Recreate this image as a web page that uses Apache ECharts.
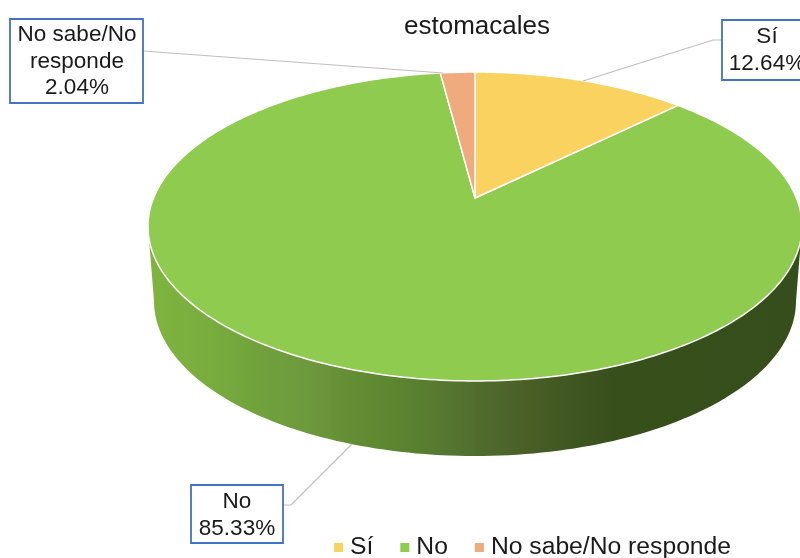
<!DOCTYPE html>
<html><head><meta charset="utf-8">
<style>html,body{margin:0;padding:0;background:#fff}#c{width:800px;height:558px}</style>
<script src="https://cdn.jsdelivr.net/npm/echarts@6/dist/echarts.min.js"></script>
</head><body><div id="c"></div>
<script>
const titleText = 'estomacales';
const categories = ['Sí', 'No', 'No sabe/No responde'];
const values = [12.64, 85.33, 2.04];
const labelNames = [['Sí'], ['No'], ['No sabe/No', 'responde']];
const colors = ['#FAD25F', '#8ECB4F', '#EFAA7E'];

const FONT = '22.5px "Liberation Sans", Arial, sans-serif';
const apex = {x: 475, y: 198};
const persp = 0.1845, projX = 321.4, projY = 149.2;
const topRim = {cx: 475, cy: 226.5, rx: 327, ry: 154.5};
const baseRim = {cx: 475, cy: 301, rx: 321, ry: 155};
const boxes = [
  {x: 722, y: 20, w: 90, h: 60, cx: 767, ty: 37, line: [[722, 40], [713, 40], [583, 81]]},
  {x: 191, y: 485, w: 92, h: 58, cx: 237, ty: 502, line: [[283, 505], [291, 505], [352, 444]]},
  {x: 10, y: 19, w: 133, h: 84, cx: 77, ty: 35, line: [[143, 51], [443, 73]]}
];
const total = values.reduce((a, b) => a + b, 0);

function project(theta) {
  const u = Math.sin(theta), v = Math.cos(theta), d = 1 + persp * v;
  return [apex.x + projX * u / d, apex.y - projY * v / d];
}
function arc(e, from, to, n) {
  const out = [];
  for (let i = 0; i <= n; i++) {
    const t = from + (to - from) * i / n;
    out.push([e.cx + e.rx * Math.cos(t), e.cy + e.ry * Math.sin(t)]);
  }
  return out;
}
function render(index) {
  return function (params, api) {
    const before = values.slice(0, index).reduce((a, b) => a + b, 0);
    const a0 = before / total * 2 * Math.PI;
    const a1 = (before + api.value(0)) / total * 2 * Math.PI;
    const pts = [[apex.x, apex.y]];
    const steps = Math.max(4, Math.ceil((a1 - a0) * 60));
    for (let i = 0; i <= steps; i++) pts.push(project(a0 + (a1 - a0) * i / steps));
    const children = [];
    if (index === 1) {
      const wall = arc(topRim, 0, Math.PI, 120).concat(arc(baseRim, Math.PI, 0, 120));
      children.push({type: 'polygon', shape: {points: wall}, style: {
        fill: new echarts.graphic.LinearGradient(0, 0, 1, 0, [
          {offset: 0, color: '#80B43F'}, {offset: 0.1, color: '#78AC3E'},
          {offset: 0.18, color: '#6FA03C'}, {offset: 0.24, color: '#6E9A3E'},
          {offset: 0.3, color: '#658F35'}, {offset: 0.38, color: '#5C8530'},
          {offset: 0.46, color: '#557630'}, {offset: 0.52, color: '#4F6A2C'},
          {offset: 0.58, color: '#495F26'}, {offset: 0.66, color: '#3E5520'},
          {offset: 0.72, color: '#374F1B'}, {offset: 1, color: '#364E1B'}
        ])
      }});
    }
    children.push({type: 'polygon', shape: {points: pts},
      style: {fill: colors[index], stroke: '#fff', lineWidth: 1.5, lineJoin: 'round'}});
    const b = boxes[index];
    children.push({type: 'polyline', shape: {points: b.line},
      style: {fill: null, stroke: '#BFBFBF', lineWidth: 1.2}});
    children.push({type: 'rect', shape: {x: b.x, y: b.y, width: b.w, height: b.h},
      style: {fill: '#fff', stroke: '#4472C4', lineWidth: 1.8}});
    const lines = labelNames[index].concat(values[index].toFixed(2) + '%');
    lines.forEach((t, i) => children.push({type: 'text', style: {
      text: t, x: b.cx, y: b.ty + i * 26.5, align: 'center', verticalAlign: 'middle',
      font: FONT, fill: '#1A1A1A'}}));
    return {type: 'group', children};
  };
}
const chart = echarts.init(document.getElementById('c'), null, {renderer: 'canvas'});
chart.setOption({
  animation: false,
  backgroundColor: '#fff',
  title: {text: titleText, left: 404, top: 14, padding: 0,
    textStyle: {fontFamily: '"Liberation Sans", Arial, sans-serif', fontSize: 26, fontWeight: 'normal', color: '#1A1A1A'}},
  legend: {data: categories, left: 334, top: 535, padding: 0, icon: 'rect', itemWidth: 9, itemHeight: 9, itemGap: 27,
    selectedMode: false,
    textStyle: {fontFamily: '"Liberation Sans", Arial, sans-serif', fontSize: 24.7, color: '#1A1A1A', padding: [0, 0, 0, 2]}},
  series: [1, 0, 2].map(i => ({
    type: 'custom', name: categories[i], coordinateSystem: 'none',
    itemStyle: {color: colors[i]},
    data: [[values[i]]],
    renderItem: render(i)
  }))
});
</script></body></html>
